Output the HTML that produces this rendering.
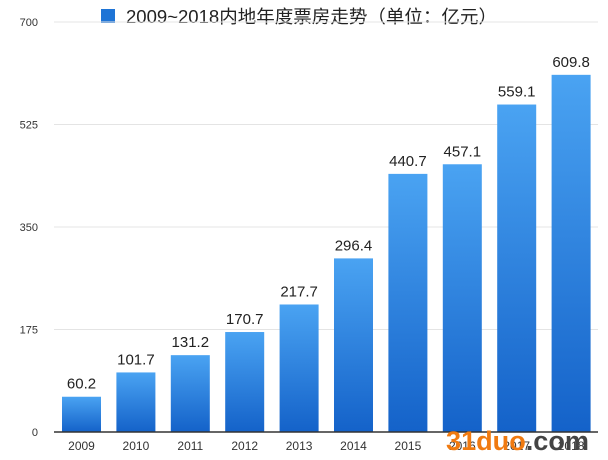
<!DOCTYPE html>
<html><head><meta charset="utf-8"><style>
body{margin:0;background:#fff;}
svg{display:block;font-family:"Liberation Sans","Noto Sans CJK SC",sans-serif;}
</style></head><body>
<svg id="c" width="608" height="460">
<defs><linearGradient id="g" x1="0" y1="0" x2="0" y2="1"><stop offset="0" stop-color="#4aa3f2"/><stop offset="1" stop-color="#1462c9"/></linearGradient></defs>
<rect x="101" y="9" width="14" height="14" fill="#1e74d6"/>
<text x="126" y="23" font-size="18" textLength="371" lengthAdjust="spacingAndGlyphs" fill="#222">2009~2018内地年度票房走势（单位：亿元）</text>
<g id="grid"></g><g id="bars"></g>
<text x="446" y="450" font-size="27" font-weight="bold" fill="#f07a10" textLength="143" lengthAdjust="spacingAndGlyphs">31duo<tspan fill="#444">.com</tspan></text>
</svg>
<script>
const categories=["2009","2010","2011","2012","2013","2014","2015","2016","2017","2018"];
const values=[60.2,101.7,131.2,170.7,217.7,296.4,440.7,457.1,559.1,609.8];
const valueLabels=["60.2","101.7","131.2","170.7","217.7","296.4","440.7","457.1","559.1","609.8"];
const ticks=[0,175,350,525,700];
const NS="http://www.w3.org/2000/svg";
const y=v=>432-v*(410/700);
const x=i=>62+i*54.4;
function mk(t,a,p){const e=document.createElementNS(NS,t);for(const k in a)e.setAttribute(k,a[k]);p.appendChild(e);return e;}
const grid=document.getElementById('grid'),bars=document.getElementById('bars');
ticks.forEach(t=>{
 if(t>0){const l=mk('line',{x1:54,x2:598,y1:y(t),y2:y(t),stroke:'#e4e4e4','stroke-width':1},grid);
 
 }
 const tx=mk('text',{x:38,y:y(t)+4,'font-size':11,'text-anchor':'end',fill:'#333'},grid);tx.textContent=t;
 
 
});
values.forEach((v,i)=>{
 const r=mk('rect',{x:x(i),y:y(v),width:39,height:432-y(v),fill:'url(#g)'},bars);
 
 
 const t=mk('text',{x:x(i)+19.5,y:y(v)-8,'font-size':15,'text-anchor':'middle',fill:'#222'},bars);t.textContent=valueLabels[i];
 
 
 const c=mk('text',{x:x(i)+19.5,y:450,'font-size':12,'text-anchor':'middle',fill:'#333'},bars);c.textContent=categories[i];
 
 
});
const ax=mk('line',{x1:54,x2:598,y1:432,y2:432,stroke:'#333','stroke-width':1.5},bars);


</script>
</body></html>
